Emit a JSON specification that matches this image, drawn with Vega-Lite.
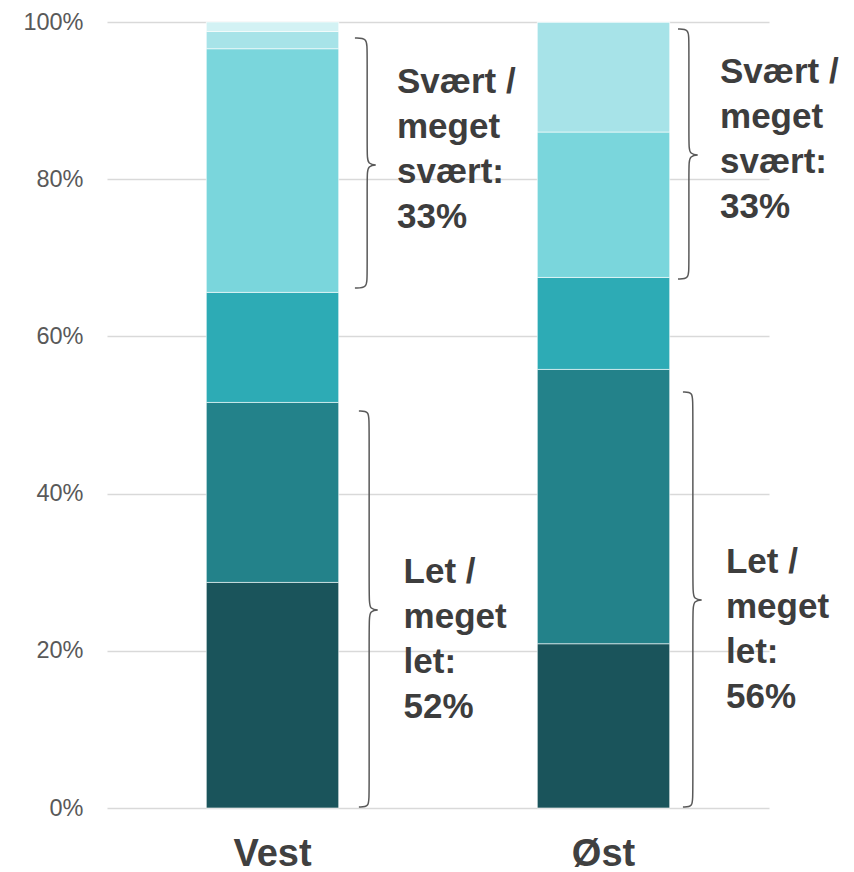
{
  "$schema": "https://vega.github.io/schema/vega-lite/v6.json",
  "autosize": {"type": "none"},
  "width": 662,
  "height": 786,
  "padding": {"left": 107, "top": 22, "right": 85, "bottom": 64},
  "background": "#ffffff",
  "config": {
    "view": {"stroke": null},
    "font": "Liberation Sans",
    "axisY": {
      "title": null,
      "domain": false,
      "ticks": false,
      "gridColor": "#d9d9d9",
      "gridWidth": 1.3,
      "labelFontSize": 23.5,
      "labelColor": "#595959",
      "labelPadding": 24
    }
  },
  "layer": [
    {
      "data": {
        "values": [
          {"region": "Vest", "level": "Meget let", "k": 1, "value": 28.7},
          {"region": "Vest", "level": "Let", "k": 2, "value": 22.9},
          {"region": "Vest", "level": "Hverken/eller", "k": 3, "value": 14.0},
          {"region": "Vest", "level": "Svært", "k": 4, "value": 31.0},
          {"region": "Vest", "level": "Meget svært", "k": 5, "value": 2.2},
          {"region": "Vest", "level": "Ved ikke", "k": 6, "value": 1.2},
          {"region": "Øst", "level": "Meget let", "k": 1, "value": 20.9},
          {"region": "Øst", "level": "Let", "k": 2, "value": 34.9},
          {"region": "Øst", "level": "Hverken/eller", "k": 3, "value": 11.7},
          {"region": "Øst", "level": "Svært", "k": 4, "value": 18.5},
          {"region": "Øst", "level": "Meget svært", "k": 5, "value": 14.0},
          {"region": "Øst", "level": "Ved ikke", "k": 6, "value": 0}
        ]
      },
      "mark": {"type": "bar", "stroke": "#ffffff", "strokeWidth": 0.6},
      "encoding": {
        "x": {
          "field": "region", "type": "nominal", "sort": ["Vest", "Øst"],
          "scale": {"paddingInner": 0.6, "paddingOuter": 0.3},
          "axis": {
            "title": null, "labelAngle": 0, "domain": false, "ticks": false, "grid": false,
            "labelFontSize": 38, "labelFontWeight": "bold", "labelColor": "#404040",
            "labelPadding": 27
          }
        },
        "y": {
          "field": "value", "type": "quantitative", "stack": "zero",
          "scale": {"domain": [0, 100], "nice": false},
          "axis": {
            "title": null, "values": [0, 20, 40, 60, 80, 100],
            "labelExpr": "datum.value + '%'", "grid": true
          }
        },
        "color": {
          "field": "level", "type": "nominal", "legend": null,
          "scale": {
            "domain": ["Meget let", "Let", "Hverken/eller", "Svært", "Meget svært", "Ved ikke"],
            "range": ["#1a545b", "#23828a", "#2dabb5", "#7ad6dc", "#a7e3e8", "#d3f2f4"]
          }
        },
        "order": {"field": "k", "type": "quantitative", "sort": "ascending"}
      }
    },
    {
      "data": {
        "values": [
          {"b": "vu", "i": 0, "bx": 0.749, "by": 97.96},
          {"b": "vu", "i": 1, "bx": 0.786, "by": 97.96},
          {"b": "vu", "i": 2, "bx": 0.786, "by": 96.46},
          {"b": "vu", "i": 3, "bx": 0.786, "by": 83.31},
          {"b": "vu", "i": 4, "bx": 0.786, "by": 81.81},
          {"b": "vu", "i": 5, "bx": 0.825, "by": 81.81},
          {"b": "vu", "i": 6, "bx": 0.786, "by": 81.81},
          {"b": "vu", "i": 7, "bx": 0.786, "by": 80.31},
          {"b": "vu", "i": 8, "bx": 0.786, "by": 67.66},
          {"b": "vu", "i": 9, "bx": 0.786, "by": 66.16},
          {"b": "vu", "i": 10, "bx": 0.749, "by": 66.16},
          {"b": "ou", "i": 0, "bx": 1.725, "by": 99.11},
          {"b": "ou", "i": 1, "bx": 1.758, "by": 99.11},
          {"b": "ou", "i": 2, "bx": 1.758, "by": 97.61},
          {"b": "ou", "i": 3, "bx": 1.758, "by": 84.58},
          {"b": "ou", "i": 4, "bx": 1.758, "by": 83.08},
          {"b": "ou", "i": 5, "bx": 1.798, "by": 83.08},
          {"b": "ou", "i": 6, "bx": 1.758, "by": 83.08},
          {"b": "ou", "i": 7, "bx": 1.758, "by": 81.58},
          {"b": "ou", "i": 8, "bx": 1.758, "by": 68.80},
          {"b": "ou", "i": 9, "bx": 1.758, "by": 67.30},
          {"b": "ou", "i": 10, "bx": 1.725, "by": 67.30},
          {"b": "vl", "i": 0, "bx": 0.761, "by": 50.51},
          {"b": "vl", "i": 1, "bx": 0.792, "by": 50.51},
          {"b": "vl", "i": 2, "bx": 0.792, "by": 49.01},
          {"b": "vl", "i": 3, "bx": 0.792, "by": 26.69},
          {"b": "vl", "i": 4, "bx": 0.792, "by": 25.19},
          {"b": "vl", "i": 5, "bx": 0.831, "by": 25.19},
          {"b": "vl", "i": 6, "bx": 0.792, "by": 25.19},
          {"b": "vl", "i": 7, "bx": 0.792, "by": 23.69},
          {"b": "vl", "i": 8, "bx": 0.792, "by": 1.63},
          {"b": "vl", "i": 9, "bx": 0.792, "by": 0.13},
          {"b": "vl", "i": 10, "bx": 0.761, "by": 0.13},
          {"b": "ol", "i": 0, "bx": 1.740, "by": 52.93},
          {"b": "ol", "i": 1, "bx": 1.770, "by": 52.93},
          {"b": "ol", "i": 2, "bx": 1.770, "by": 51.43},
          {"b": "ol", "i": 3, "bx": 1.770, "by": 27.96},
          {"b": "ol", "i": 4, "bx": 1.770, "by": 26.46},
          {"b": "ol", "i": 5, "bx": 1.810, "by": 26.46},
          {"b": "ol", "i": 6, "bx": 1.770, "by": 26.46},
          {"b": "ol", "i": 7, "bx": 1.770, "by": 24.96},
          {"b": "ol", "i": 8, "bx": 1.770, "by": 1.63},
          {"b": "ol", "i": 9, "bx": 1.770, "by": 0.13},
          {"b": "ol", "i": 10, "bx": 1.740, "by": 0.13}
        ]
      },
      "mark": {"type": "line", "interpolate": "basis", "stroke": "#595959", "strokeWidth": 1.5},
      "encoding": {
        "x": {"field": "bx", "type": "quantitative", "scale": {"domain": [0, 2], "nice": false, "zero": false}, "axis": null},
        "y": {"field": "by", "type": "quantitative", "axis": {"title": null, "values": [0, 20, 40, 60, 80, 100], "labelExpr": "datum.value + '%'", "grid": true}},
        "detail": {"field": "b", "type": "nominal"},
        "order": {"field": "i", "type": "quantitative"}
      }
    },
    {
      "data": {
        "values": [
          {"tx": 0.876, "ty": 90.97, "t": "Svært /\nmeget\nsvært:\n33%"},
          {"tx": 1.852, "ty": 92.24, "t": "Svært /\nmeget\nsvært:\n33%"},
          {"tx": 0.896, "ty": 28.63, "t": "Let /\nmeget\nlet:\n52%"},
          {"tx": 1.870, "ty": 29.90, "t": "Let /\nmeget\nlet:\n56%"}
        ]
      },
      "mark": {
        "type": "text", "align": "left", "baseline": "alphabetic", "lineBreak": "\n",
        "lineHeight": 45, "fontSize": 35, "fontWeight": "bold", "color": "#3d3d3d"
      },
      "encoding": {
        "x": {"field": "tx", "type": "quantitative", "scale": {"domain": [0, 2], "nice": false, "zero": false}, "axis": null},
        "y": {"field": "ty", "type": "quantitative", "axis": {"title": null, "values": [0, 20, 40, 60, 80, 100], "labelExpr": "datum.value + '%'", "grid": true}},
        "text": {"field": "t", "type": "nominal"}
      }
    }
  ],
  "resolve": {"scale": {"x": "independent"}, "axis": {"x": "independent"}}
}
